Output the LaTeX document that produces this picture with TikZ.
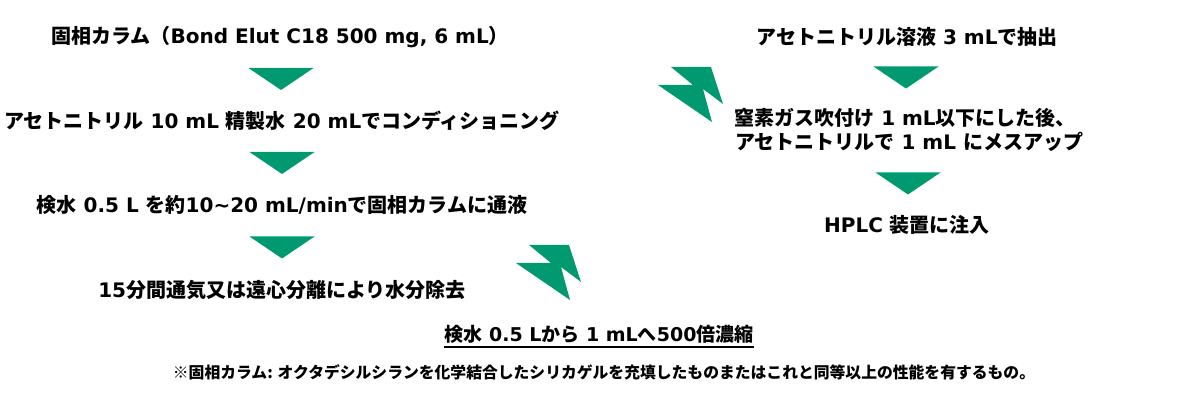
\documentclass[tikz,border=0pt]{standalone}
\usepackage{fontspec}
\setmainfont{Noto Sans CJK JP}
\newfontfamily\enfont{DejaVu Sans}
\newcommand\en[1]{{\enfont #1}}
\usetikzlibrary{calc}
\definecolor{flowgreen}{RGB}{0,153,112}

\begin{document}
\begin{tikzpicture}[x=1pt,y=-1pt,
	stepline/.style={font=\fontsize{20}{24}\selectfont\bfseries,inner sep=0pt},
	noteline/.style={font=\fontsize{15.8}{18}\selectfont\bfseries,inner sep=0pt}]
	\useasboundingbox (0,0) rectangle (1200,414);

	% left column
	\node[stepline] (colline) at (280,37) {固相カラム（\en{Bond Elut C18 500 mg, 6 mL}）};
	\node[stepline] (condline) at (282,121) {アセトニトリル\en{ 10 mL }精製水\en{ 20 mL}でコンディショニング};
	\node[stepline] (passline) at (282,205) {検水\en{ 0.5 L }を約\en{10\textasciitilde20 mL/min}で固相カラムに通液};
	\node[stepline] (dryline) at (282,290) {\en{15}分間通気又は遠心分離により水分除去};

	% right column
	\node[stepline] (eluline) at (907,37) {アセトニトリル溶液\en{ 3 mL}で抽出};
	\node[stepline] (evapline) at (905,118) {窒素ガス吹付け\en{ 1 mL}以下にした後、};
	\node[stepline] (mesline) at (909,142) {アセトニトリルで\en{ 1 mL }にメスアップ};
	\node[stepline] (hplcline) at (907,225) {\en{HPLC }装置に注入};

	\foreach \a/\b in {colline/condline,condline/passline,passline/dryline,eluline/evapline,mesline/hplcline}{
		\coordinate (m) at ($(\a)!.5!(\b)$);
		\fill[flowgreen] ([xshift=-32.5pt,yshift=11pt]m) -- ([xshift=32.5pt,yshift=11pt]m) -- ([yshift=-11pt]m) -- cycle;
	}

	\foreach \sx/\sy in {529/245,671/67}
	\fill[flowgreen,shift={(\sx,\sy)}] (0,0) -- (40,0) -- (52,37) -- (32,22) -- (41,55) -- (-13,18) -- (22,18) -- cycle;

	% bottom
	\node[stepline,font=\fontsize{19}{24}\selectfont\bfseries,anchor=base] (concline) at (599,341) {検水\en{ 0.5 L}から\en{ 1 mL}へ\en{500}倍濃縮};
	\draw[line width=1.2pt] ([yshift=-6pt]concline.base west) -- ([yshift=-6pt]concline.base east);
	\node[noteline] (noteline) at (604,372) {※固相カラム: オクタデシルシランを化学結合したシリカゲルを充填したものまたはこれと同等以上の性能を有するもの。};
\end{tikzpicture}
\end{document}
